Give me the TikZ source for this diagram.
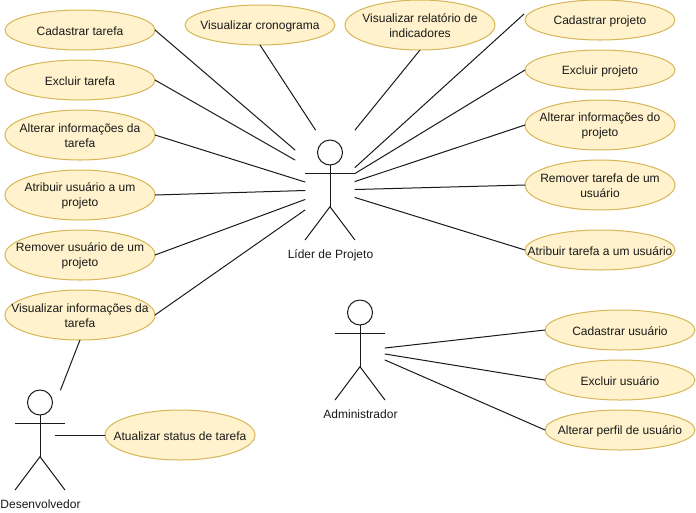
\documentclass[tikz,border=0pt]{standalone}
\usepackage{fontspec}
\setmainfont{Liberation Sans}
\usetikzlibrary{shapes.geometric}
\definecolor{ucfill}{HTML}{FFF2CC}
\definecolor{ucline}{HTML}{D6B656}
\tikzset{
  usecase/.style={ellipse,draw=ucline,fill=ucfill,line width=0.75pt,minimum width=112.5pt,minimum height=30pt,inner sep=0pt,outer sep=0pt},
  usecasetall/.style={usecase,minimum height=37.5pt},
  uctext/.style={align=center,inner sep=0pt,font=\fontsize{9}{11.25}\selectfont,text=black!90},
  actorline/.style={draw=black!90,line width=0.75pt},
  link/.style={draw=black!90,line width=0.75pt,line cap=round},
  actorlabel/.style={font=\fontsize{9}{10.9}\selectfont,text=black!90,inner sep=0pt}
}
\newcommand{\ucnode}[4][usecase]{%
  \node[#1] (#2) at (#3) {};
  \node[uctext] (#2text) at ([yshift=-0.8pt]#2.center) {#4};
}
\newcommand{\ucactor}[4]{% name, x, y (top left), label
  \node[actorline,circle,minimum size=18.75pt,inner sep=0pt,outer sep=0pt] (#1head) at (#2+25,#3+12.5) {};
  \coordinate (#1hip) at (#2+25,#3+66.7);
  \coordinate (#1al) at (#2,#3+33.3);
  \coordinate (#1ar) at (#2+50,#3+33.3);
  \coordinate (#1ll) at (#2,#3+100);
  \coordinate (#1lr) at (#2+50,#3+100);
  \draw[actorline] (#1head.south) -- (#1hip);
  \draw[actorline] (#1al) -- (#1ar);
  \draw[actorline] (#1ll) -- (#1hip) -- (#1lr);
  \node[actorlabel] (#1label) at (#2+25.5,#3+115.8) {\strut #4};
}
\begin{document}
\begin{tikzpicture}[x=0.75pt,y=-0.75pt]
\useasboundingbox (0,0) rectangle (696,512);
% free ends
\coordinate (p1) at (295,150);
\coordinate (p2) at (295,160);
\coordinate (p3) at (305,182);
\coordinate (p4) at (305,190.5);
\coordinate (p5) at (305,199.5);
\coordinate (p6) at (305,210);
\coordinate (p7) at (315.5,130);
\coordinate (p8) at (355,130);
\coordinate (q0) at (524,14);
\coordinate (q1) at (355,167.5);
\coordinate (q2) at (355,173.5);
\coordinate (q3) at (355,181.5);
\coordinate (q4) at (355,189.5);
\coordinate (q5) at (355,197.5);
\coordinate (r1) at (385,348);
\coordinate (r2) at (385,354);
\coordinate (r3) at (385,360);
\coordinate (s1) at (60.5,390);
\coordinate (s2) at (55.5,435);
% use cases, left column
\ucnode{ct}{80,30}{Cadastrar tarefa}
\ucnode{et}{80,80}{Excluir tarefa}
\ucnode[usecasetall]{ai}{80,135}{Alterar informações da\\tarefa}
\ucnode[usecasetall]{au}{80,195}{Atribuir usuário a um\\projeto}
\ucnode[usecasetall]{ru}{80,255}{Remover usuário de um\\projeto}
\ucnode[usecasetall]{vi}{80,315}{Visualizar informações da\\tarefa}
% top
\ucnode{vc}{260,25}{Visualizar cronograma}
\ucnode[usecasetall]{vr}{420,25}{Visualizar relatório de\\indicadores}
% right column
\ucnode{cp}{600,20}{Cadastrar projeto}
\ucnode{ep}{600,70}{Excluir projeto}
\ucnode[usecasetall]{ap}{600,125}{Alterar informações do\\projeto}
\ucnode[usecasetall]{rt}{600,185}{Remover tarefa de um\\usuário}
\ucnode{at}{600,250}{Atribuir tarefa a um usuário}
% admin
\ucnode{cu}{620,330}{Cadastrar usuário}
\ucnode{eu}{620,380}{Excluir usuário}
\ucnode{pu}{620,430}{Alterar perfil de usuário}
% dev
\ucnode[usecasetall]{as}{180,435}{Atualizar status de tarefa}
% actors
\ucactor{lp}{305}{140}{Líder de Projeto}
\ucactor{ad}{335}{300}{Administrador}
\ucactor{de}{15}{390}{Desenvolvedor}
% connectors
\draw[link] (ct.east) -- (p1);
\draw[link] (et.east) -- (p2);
\draw[link] (ai.east) -- (p3);
\draw[link] (au.east) -- (p4);
\draw[link] (ru.east) -- (p5);
\draw[link] (vi.east) -- (p6);
\draw[link] (vc.south) -- (p7);
\draw[link] (vr.south) -- (p8);
\draw[link] (q0) -- (q1);
\draw[link] (ep.west) -- (q2);
\draw[link] (ap.west) -- (q3);
\draw[link] (rt.west) -- (q4);
\draw[link] (at.west) -- (q5);
\draw[link] (cu.west) -- (r1);
\draw[link] (eu.west) -- (r2);
\draw[link] (pu.west) -- (r3);
\draw[link] (vi.south) -- (s1);
\draw[link] (as.west) -- (s2);
\end{tikzpicture}
\end{document}
